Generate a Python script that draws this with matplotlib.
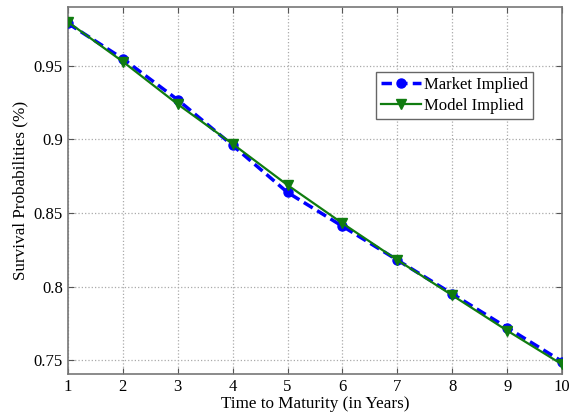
import matplotlib
matplotlib.use("Agg")
import matplotlib.pyplot as plt

# Data
years = [1, 2, 3, 4, 5, 6, 7, 8, 9, 10]
market_implied = [0.979, 0.955, 0.927, 0.896, 0.864, 0.841, 0.818, 0.795, 0.772, 0.749]
model_implied = [0.980, 0.953, 0.924, 0.897, 0.869, 0.843, 0.818, 0.794, 0.770, 0.747]
y_ticks = [0.75, 0.8, 0.85, 0.9, 0.95]
y_labels = ["0.75", "0.8", "0.85", "0.9", "0.95"]

plt.rcParams['font.family'] = ['Liberation Serif', 'DejaVu Serif']

fig = plt.figure(figsize=(5.79, 4.17), dpi=100)
ax = fig.add_axes([0.117, 0.103, 0.854, 0.880])

ax.plot(years, market_implied, '--o', color='#0000ff', lw=2.5, ms=6.5,
        dashes=(3, 1.5), label='Market Implied', zorder=3)
ax.plot(years, model_implied, '-v', color='#107c10', lw=1.6, ms=6.5,
        label='Model Implied', zorder=4)

ax.set_xlim(1, 10)
ax.set_ylim(0.7405, 0.990)
ax.set_xticks(years)
ax.set_yticks(y_ticks)
ax.set_yticklabels(y_labels)
ax.tick_params(direction='in', top=True, right=True, labelsize=12, length=4,
               color='#555555')
ax.grid(True, linestyle=':', color='#aaaaaa', lw=0.9)
for s in ax.spines.values():
    s.set_color('#777777')
    s.set_linewidth(1.2)

ax.set_xlabel('Time to Maturity (in Years)', fontsize=12.3, labelpad=1)
ax.set_ylabel('Survival Probabilities (%)', fontsize=12.3, labelpad=4)

leg = ax.legend(loc='upper right', bbox_to_anchor=(0.958, 0.846), fontsize=12,
                handlelength=2.4, handletextpad=0.2, borderpad=0.3,
                labelspacing=0.3, fancybox=False, framealpha=1)
leg.get_frame().set_edgecolor('#666666')

fig.savefig('out.png', dpi=100)
